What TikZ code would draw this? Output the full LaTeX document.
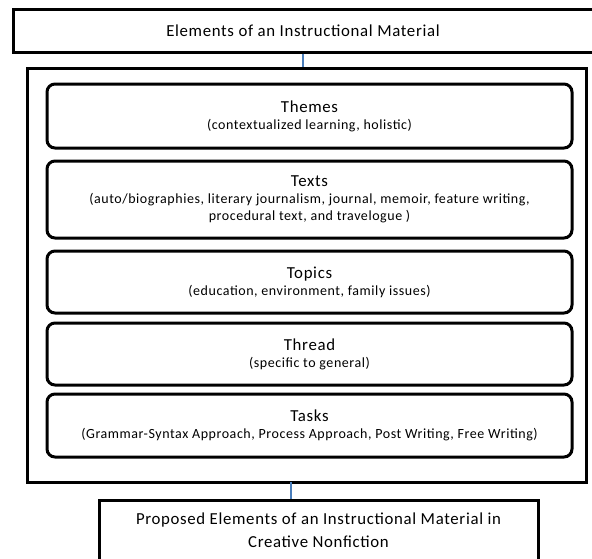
\documentclass[tikz,border=0pt]{standalone}
\usepackage{fontspec}
\setmainfont{Carlito}[LetterSpace=4]
\definecolor{linkblue}{RGB}{74,126,187}
\newcommand{\heading}{\fontsize{16.8}{18}\selectfont}

\begin{document}
\begin{tikzpicture}[x=1pt, y=-1pt,
            every node/.style = {shape=rectangle, draw, line width=3pt,
                                align=center, inner sep=0pt,
                                font=\fontsize{16.8}{23}\selectfont},
            part/.style = {rounded corners=8pt, minimum width=525pt,
                                font=\fontsize{14}{17}\selectfont},
            link/.style = {draw=linkblue, line width=1.5pt}]
    \useasboundingbox (0,0) rectangle (592,558);
    \node[minimum width=580pt, minimum height=43pt] (elements) at (303,30.5) {Elements of an Instructional Material};
    \node[minimum width=559pt, minimum height=414pt] (frame) at (306.5,275) {};
    \node[part, minimum height=64pt] (themes) at (309.5,116) {{\heading Themes}\\ (contextualized learning, holistic)};
    \node[part, minimum height=77pt] (texts) at (309.5,199.5) {{\heading Texts}\\ (auto/biographies, literary journalism, journal, memoir, feature writing,\\ procedural text, and travelogue )};
    \node[part, minimum height=62pt] (topics) at (309.5,282) {{\heading Topics}\\ (education, environment, family issues)};
    \node[part, minimum height=62pt] (thread) at (309.5,354) {{\heading Thread}\\ (specific to general)};
    \node[part, minimum height=63pt] (tasks) at (309.5,425.5) {{\heading Tasks}\\ (Grammar-Syntax Approach, Process Approach, Post Writing, Free Writing)};
    \node[minimum width=439pt, minimum height=60pt] (proposed) at (318.5,530) {Proposed Elements of an Instructional Material in\\ Creative Nonfiction};
    \coordinate (joint) at (291,482);
    \draw[link] (elements.south) -- (elements.south |- frame.north);
    \draw[link] (joint) -- (joint |- proposed.north);
\end{tikzpicture}
\end{document}
